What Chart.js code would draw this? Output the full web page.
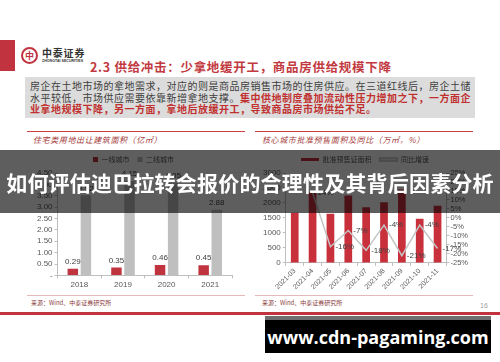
<!DOCTYPE html>
<html>
<head>
<meta charset="utf-8">
<script src="https://cdn.jsdelivr.net/npm/chart.js@4.4.1/dist/chart.umd.min.js"></script>
<style>
  html, body { margin: 0; padding: 0; }
  body { width: 500px; height: 362px; position: relative; overflow: hidden; background: #fff;
         font-family: "Noto Sans CJK SC", "Liberation Sans", sans-serif; }
  .abs { position: absolute; }
  .redbar { left: 0; top: 40px; width: 15px; height: 31px; background: #c1343f; }
  .logo { left: 21px; top: 47px; width: 13px; height: 13px; border: 2px solid #c1343f; border-radius: 50%;
          color: #c1343f; font-size: 9px; font-weight: bold; line-height: 13px; text-align: center; }
  .brand { left: 42px; top: 45px; font-size: 10px; font-weight: bold; color: #333; letter-spacing: 0.8px; white-space: nowrap; }
  .brand-en { left: 42px; top: 59px; font-size: 3.6px; font-weight: bold; color: #333; font-family: "Liberation Sans"; white-space: nowrap; }
  .title { left: 90px; top: 57px; font-size: 12.5px; font-weight: bold; color: #c23a3f; letter-spacing: 0.7px; white-space: nowrap; }
  .box { left: 25px; top: 77px; width: 450px; height: 41px; background: #dcdcdc; }
  .box p { margin: 0; padding: 3px 0 0 5px; font-size: 10px; line-height: 11.6px; color: #404040; letter-spacing: 0.5px; white-space: nowrap; }
  .box b { color: #c0302f; }
  .rule { height: 1px; background: #c9403f; }
  .rule-lo { height: 1px; background: #e8b8b8; }
  .ptitle { font-size: 8px; font-style: italic; color: #a63c3c; letter-spacing: 0.6px; white-space: nowrap; }
  .src { font-size: 6px; color: #8a3b3b; white-space: nowrap; }
  .bottom { left: 0; top: 312px; width: 500px; height: 3px; background: #c1343f; }
  .page { left: 480px; top: 302px; font-size: 7px; color: #a0a0a0; font-family: "Liberation Sans"; }
  canvas { position: absolute; }
  .overlay { left: 0; top: 150px; width: 500px; height: 63px; background: rgba(0,0,0,0.63);
             color: #fff; font-size: 21px; font-weight: bold; letter-spacing: 0.2px;
             display: flex; align-items: center; justify-content: center; white-space: nowrap; }
  .mark { left: 265px; top: 316px; width: 226px; height: 37px; background: #000; border-top: 4px solid #6e6e6e;
          box-sizing: border-box; color: #fff; font-family: "Open Sans", sans-serif; font-weight: bold; font-size: 18px;
          display: flex; align-items: center; justify-content: center; }
</style>
</head>
<body>
<div class="abs redbar"></div>
<div class="abs logo">中</div>
<div class="abs brand">中泰证券</div>
<div class="abs brand-en">ZHONGTAI SECURITIES</div>
<div class="abs title">2.3 供给冲击：少拿地缓开工，商品房供给规模下降</div>
<div class="abs box"><p>房企在土地市场的拿地需求，对应的则是商品房销售市场的住房供应。在三道红线后，房企土储<br>水平较低，市场供应需要依靠新增拿地支撑。<b>集中供地制度叠加流动性压力增加之下，一方面企<br>业拿地规模下降，另一方面，拿地后放缓开工，导致商品房市场供给不足。</b></p></div>

<div class="abs rule" style="left:27px;top:131px;width:218px;"></div>
<div class="abs rule" style="left:255px;top:131px;width:218px;"></div>
<div class="abs ptitle" style="left:33px;top:134px;">住宅类用地出让建筑面积（亿㎡）</div>
<div class="abs ptitle" style="left:262px;top:134px;">核心城市批准预售面积及同比（万㎡，%）</div>

<canvas id="leftChart" width="218" height="146" style="left:27px;top:146px;"></canvas>
<canvas id="rightChart" width="218" height="146" style="left:255px;top:146px;"></canvas>

<div class="abs rule-lo" style="left:27px;top:295px;width:218px;"></div>
<div class="abs rule-lo" style="left:255px;top:295px;width:218px;"></div>
<div class="abs src" style="left:31px;top:298px;">来源：Wind、中泰证券研究所</div>
<div class="abs src" style="left:262px;top:298px;">来源：Wind、中泰证券研究所</div>
<div class="abs page">16</div>
<div class="abs bottom"></div>

<div class="abs overlay">如何评估迪巴拉转会报价的合理性及其背后因素分析</div>
<div class="abs mark">www.cdn-pagaming.com</div>

<script>
// left chart: residential land, floor area (100m sqm)
const years = ['2018', '2019', '2020', '2021'];
const tier1 = [0.29, 0.35, 0.46, 0.45];
const tier2 = [3.52, 4.15, 4.05, 2.88];

// right chart: pre-sale approvals (10k sqm) and yoy (%)
const months = ['2021-03', '2021-04', '2021-05', '2021-06', '2021-07', '2021-08', '2021-09', '2021-10', '2021-11'];
const presaleArea = [1670, 2350, 1640, 2250, 1860, 2020, 2450, 1470, 1910];
const yoyGrowth = [null, 14, -16, -7, -18, -4, -21, -4, -17];

const numFont = '"Liberation Sans", Arial, sans-serif';
const cjkFont = '"Noto Sans CJK SC", sans-serif';
const axisGray = '#bfbfbf';
const textGray = '#595959';

// draws value labels from the element positions
const valueLabels = {
    id: 'valueLabels',
    afterDatasetsDraw(chart) {
        const ctx = chart.ctx;
        chart.data.datasets.forEach((ds, i) => {
            if (!ds.labelMode) return;
            const meta = chart.getDatasetMeta(i);
            meta.data.forEach((el, j) => {
                const v = ds.data[j];
                if (v == null) return;
                ctx.save();
                ctx.font = '8px ' + numFont;
                ctx.fillStyle = '#404040';
                if (ds.labelMode === 'top') {
                    ctx.textAlign = 'center';
                    ctx.textBaseline = 'bottom';
                    ctx.fillText(v.toFixed(2), el.x, el.y - 3);
                } else {
                    ctx.textAlign = 'left';
                    ctx.textBaseline = 'middle';
                    ctx.fillText(v + '%', el.x + 5, el.y);
                }
                ctx.restore();
            });
        });
    }
};

new Chart(document.getElementById('leftChart'), {
    type: 'bar',
    data: {
        labels: years,
        datasets: [
            { label: '一线城市', data: tier1, backgroundColor: '#c0343f', labelMode: 'top',
              barPercentage: 0.8, categoryPercentage: 0.6 },
            { label: '二线城市', data: tier2, backgroundColor: '#bfbfbf', labelMode: 'top',
              barPercentage: 0.8, categoryPercentage: 0.6 }
        ]
    },
    options: {
        responsive: false,
        animation: false,
        layout: { padding: { left: 8, right: 13, top: 2, bottom: 0 } },
        plugins: {
            legend: {
                labels: { boxWidth: 5, boxHeight: 5, padding: 8, color: textGray, font: { size: 7, family: cjkFont } }
            },
            tooltip: { enabled: false }
        },
        scales: {
            x: {
                grid: { drawOnChartArea: false, tickLength: 3, color: axisGray },
                border: { color: axisGray },
                ticks: { color: textGray, font: { size: 8, family: numFont }, padding: 2 }
            },
            y: {
                min: 0,
                max: 4.5,
                grid: { drawOnChartArea: false, tickLength: 3, color: axisGray },
                border: { color: axisGray },
                ticks: {
                    stepSize: 0.5,
                    autoSkip: false,
                    color: textGray,
                    font: { size: 8, family: numFont },
                    padding: 2,
                    callback: v => v === 0 ? '-' : v.toFixed(2)
                }
            }
        }
    },
    plugins: [valueLabels]
});

new Chart(document.getElementById('rightChart'), {
    data: {
        labels: months,
        datasets: [
            { type: 'line', label: '同比增速', data: yoyGrowth, yAxisID: 'y1', borderColor: '#c4c4c4',
              borderWidth: 1.5, pointRadius: 0, labelMode: 'right', order: 0 },
            { type: 'bar', label: '批准预售证面积', data: presaleArea, yAxisID: 'y', backgroundColor: '#c8303c',
              barPercentage: 0.48, categoryPercentage: 0.9, order: 1 }
        ]
    },
    options: {
        responsive: false,
        animation: false,
        layout: { padding: { left: 6, right: 4, top: 2, bottom: 0 } },
        plugins: {
            legend: {
                reverse: true,
                labels: { boxWidth: 18, boxHeight: 3, padding: 8, color: textGray, font: { size: 7, family: cjkFont } }
            },
            tooltip: { enabled: false }
        },
        scales: {
            x: {
                grid: { drawOnChartArea: false, tickLength: 3, color: axisGray },
                border: { color: axisGray },
                ticks: { color: textGray, font: { size: 7, family: numFont }, minRotation: 45, maxRotation: 45, padding: 1 }
            },
            y: {
                position: 'left',
                min: 0,
                max: 3000,
                grid: { drawOnChartArea: false, tickLength: 3, color: axisGray },
                border: { color: axisGray },
                ticks: { stepSize: 500, autoSkip: false, color: textGray, font: { size: 8, family: numFont }, padding: 2,
                         callback: v => String(v) }
            },
            y1: {
                position: 'right',
                min: -25,
                max: 25,
                grid: { drawOnChartArea: false, tickLength: 3, color: axisGray },
                border: { color: axisGray },
                ticks: { stepSize: 5, autoSkip: false, color: textGray, font: { size: 7.5, family: numFont }, padding: 1,
                         callback: v => v + '%' }
            }
        }
    },
    plugins: [valueLabels]
});
</script>
</body>
</html>
